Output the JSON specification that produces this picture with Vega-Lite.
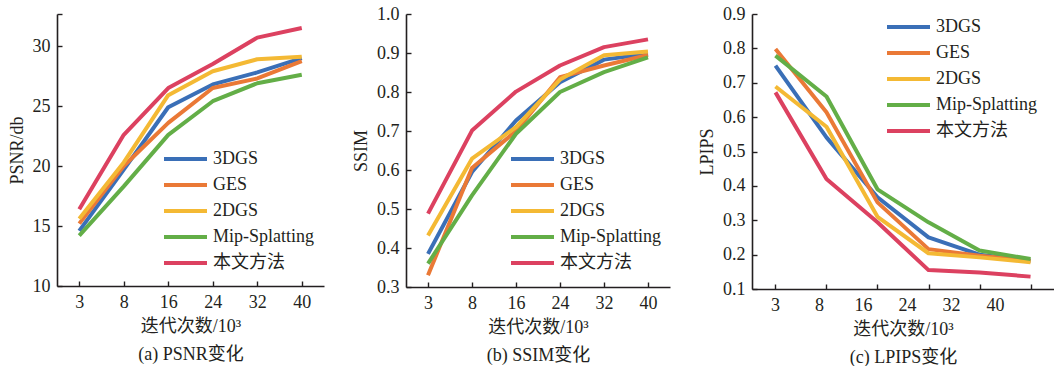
{
  "$schema": "https://vega.github.io/schema/vega-lite/v6.json",
  "padding": {"left": 8, "top": 5, "right": 0, "bottom": 0},
  "bounds": "flush",
  "spacing": 82,
  "config": {
    "font": "Liberation Serif, Noto Sans CJK SC",
    "view": {"stroke": null},
    "axis": {
      "labelFont": "Liberation Serif, Noto Sans CJK SC",
      "titleFont": "Liberation Serif, Noto Sans CJK SC",
      "labelFontSize": 18,
      "titleFontSize": 18,
      "titleFontWeight": "normal",
      "labelColor": "#231f20",
      "titleColor": "#231f20",
      "domainColor": "#231f20",
      "tickColor": "#231f20",
      "domainWidth": 1.6,
      "tickWidth": 1.4,
      "tickSize": -5,
      "grid": false,
      "labelPadding": 12,
      "titlePadding": 6,
      "labelAngle": 0,
      "labelOverlap": false
    },
    "legend": {
      "symbolType": "stroke",
      "symbolSize": 1849,
      "symbolStrokeWidth": 4.5,
      "labelFont": "Liberation Serif, Noto Sans CJK SC",
      "labelFontSize": 18,
      "labelColor": "#231f20",
      "labelOffset": 4,
      "clipHeight": 26,
      "rowPadding": 0,
      "padding": 0,
      "labelLimit": 300
    },
    "line": {"strokeWidth": 4, "strokeJoin": "round"}
  },
  "datasets": {
    "psnr": [
      {"method": "3DGS", "iter": 3, "value": 14.6},
      {"method": "3DGS", "iter": 8, "value": 19.7},
      {"method": "3DGS", "iter": 16, "value": 24.9},
      {"method": "3DGS", "iter": 24, "value": 26.8},
      {"method": "3DGS", "iter": 32, "value": 27.8},
      {"method": "3DGS", "iter": 40, "value": 29.0},
      {"method": "GES", "iter": 3, "value": 15.2},
      {"method": "GES", "iter": 8, "value": 20.0},
      {"method": "GES", "iter": 16, "value": 23.6},
      {"method": "GES", "iter": 24, "value": 26.5},
      {"method": "GES", "iter": 32, "value": 27.3},
      {"method": "GES", "iter": 40, "value": 28.75},
      {"method": "2DGS", "iter": 3, "value": 15.6},
      {"method": "2DGS", "iter": 8, "value": 20.3},
      {"method": "2DGS", "iter": 16, "value": 25.9},
      {"method": "2DGS", "iter": 24, "value": 27.9},
      {"method": "2DGS", "iter": 32, "value": 28.9},
      {"method": "2DGS", "iter": 40, "value": 29.1},
      {"method": "Mip-Splatting", "iter": 3, "value": 14.2},
      {"method": "Mip-Splatting", "iter": 8, "value": 18.3},
      {"method": "Mip-Splatting", "iter": 16, "value": 22.6},
      {"method": "Mip-Splatting", "iter": 24, "value": 25.4},
      {"method": "Mip-Splatting", "iter": 32, "value": 26.9},
      {"method": "Mip-Splatting", "iter": 40, "value": 27.6},
      {"method": "本文方法", "iter": 3, "value": 16.4},
      {"method": "本文方法", "iter": 8, "value": 22.6},
      {"method": "本文方法", "iter": 16, "value": 26.5},
      {"method": "本文方法", "iter": 24, "value": 28.5},
      {"method": "本文方法", "iter": 32, "value": 30.7},
      {"method": "本文方法", "iter": 40, "value": 31.5}
    ],
    "ssim": [
      {"method": "3DGS", "iter": 3, "value": 0.385},
      {"method": "3DGS", "iter": 8, "value": 0.595},
      {"method": "3DGS", "iter": 16, "value": 0.727},
      {"method": "3DGS", "iter": 24, "value": 0.825},
      {"method": "3DGS", "iter": 32, "value": 0.883},
      {"method": "3DGS", "iter": 40, "value": 0.898},
      {"method": "GES", "iter": 3, "value": 0.33},
      {"method": "GES", "iter": 8, "value": 0.605},
      {"method": "GES", "iter": 16, "value": 0.70},
      {"method": "GES", "iter": 24, "value": 0.838},
      {"method": "GES", "iter": 32, "value": 0.868},
      {"method": "GES", "iter": 40, "value": 0.895},
      {"method": "2DGS", "iter": 3, "value": 0.432},
      {"method": "2DGS", "iter": 8, "value": 0.629},
      {"method": "2DGS", "iter": 16, "value": 0.71},
      {"method": "2DGS", "iter": 24, "value": 0.832},
      {"method": "2DGS", "iter": 32, "value": 0.894},
      {"method": "2DGS", "iter": 40, "value": 0.904},
      {"method": "Mip-Splatting", "iter": 3, "value": 0.36},
      {"method": "Mip-Splatting", "iter": 8, "value": 0.535},
      {"method": "Mip-Splatting", "iter": 16, "value": 0.693},
      {"method": "Mip-Splatting", "iter": 24, "value": 0.80},
      {"method": "Mip-Splatting", "iter": 32, "value": 0.851},
      {"method": "Mip-Splatting", "iter": 40, "value": 0.889},
      {"method": "本文方法", "iter": 3, "value": 0.488},
      {"method": "本文方法", "iter": 8, "value": 0.701},
      {"method": "本文方法", "iter": 16, "value": 0.801},
      {"method": "本文方法", "iter": 24, "value": 0.868},
      {"method": "本文方法", "iter": 32, "value": 0.915},
      {"method": "本文方法", "iter": 40, "value": 0.935}
    ],
    "lpips": [
      {"method": "3DGS", "iter": 3, "value": 0.75},
      {"method": "3DGS", "iter": 8, "value": 0.541},
      {"method": "3DGS", "iter": 16, "value": 0.367},
      {"method": "3DGS", "iter": 24, "value": 0.25},
      {"method": "3DGS", "iter": 32, "value": 0.20},
      {"method": "3DGS", "iter": 40, "value": 0.182},
      {"method": "GES", "iter": 3, "value": 0.798},
      {"method": "GES", "iter": 8, "value": 0.614},
      {"method": "GES", "iter": 16, "value": 0.352},
      {"method": "GES", "iter": 24, "value": 0.216},
      {"method": "GES", "iter": 32, "value": 0.197},
      {"method": "GES", "iter": 40, "value": 0.182},
      {"method": "2DGS", "iter": 3, "value": 0.689},
      {"method": "2DGS", "iter": 8, "value": 0.572},
      {"method": "2DGS", "iter": 16, "value": 0.31},
      {"method": "2DGS", "iter": 24, "value": 0.204},
      {"method": "2DGS", "iter": 32, "value": 0.192},
      {"method": "2DGS", "iter": 40, "value": 0.178},
      {"method": "Mip-Splatting", "iter": 3, "value": 0.779},
      {"method": "Mip-Splatting", "iter": 8, "value": 0.66},
      {"method": "Mip-Splatting", "iter": 16, "value": 0.39},
      {"method": "Mip-Splatting", "iter": 24, "value": 0.294},
      {"method": "Mip-Splatting", "iter": 32, "value": 0.212},
      {"method": "Mip-Splatting", "iter": 40, "value": 0.187},
      {"method": "本文方法", "iter": 3, "value": 0.672},
      {"method": "本文方法", "iter": 8, "value": 0.42},
      {"method": "本文方法", "iter": 16, "value": 0.294},
      {"method": "本文方法", "iter": 24, "value": 0.155},
      {"method": "本文方法", "iter": 32, "value": 0.148},
      {"method": "本文方法", "iter": 40, "value": 0.136}
    ]
  },
  "resolve": {"legend": {"color": "independent"}},
  "hconcat": [
    {
      "width": 267,
      "height": 272,
      "data": {"name": "psnr"},
      "mark": {"type": "line"},
      "encoding": {
        "x": {"field": "iter", "type": "ordinal", "scale": {"type": "point", "padding": 0.5}, "axis": {"title": ["迭代次数/10³", "(a) PSNR变化"], "titleLineHeight": 28}},
        "y": {"field": "value", "type": "quantitative", "scale": {"domain": [10, 32.67], "nice": false, "zero": false}, "axis": {"title": "PSNR/db", "values": [10, 15, 20, 25, 30, 32.67], "labelOverlap": false, "labelExpr": "datum.value > 31 ? '' : datum.label"}},
        "color": {"field": "method", "type": "nominal", "scale": {"domain": ["3DGS", "GES", "2DGS", "Mip-Splatting", "本文方法"], "range": ["#3a6fb7", "#ea7936", "#f4b934", "#63ae47", "#dc4160"]}, "legend": {"orient": "none", "legendX": 105, "legendY": 132, "title": null}}
      }
    },
    {
      "width": 264,
      "height": 273,
      "data": {"name": "ssim"},
      "mark": {"type": "line"},
      "encoding": {
        "x": {"field": "iter", "type": "ordinal", "scale": {"type": "point", "padding": 0.5}, "axis": {"title": ["迭代次数/10³", "(b) SSIM变化"], "titleLineHeight": 28}},
        "y": {"field": "value", "type": "quantitative", "scale": {"domain": [0.3, 1.0], "nice": false, "zero": false}, "axis": {"title": "SSIM", "values": [0.3, 0.4, 0.5, 0.6, 0.7, 0.8, 0.9, 1.0], "format": ".1f", "labelOverlap": false}},
        "color": {"field": "method", "type": "nominal", "scale": {"domain": ["3DGS", "GES", "2DGS", "Mip-Splatting", "本文方法"], "range": ["#3a6fb7", "#ea7936", "#f4b934", "#63ae47", "#dc4160"]}, "legend": {"orient": "none", "legendX": 103, "legendY": 132, "title": null}}
      }
    },
    {
      "width": 302,
      "height": 275,
      "data": {"name": "lpips"},
      "resolve": {"scale": {"x": "independent"}},
      "layer": [
        {
          "mark": {"type": "line"},
          "encoding": {
            "x": {"field": "iter", "type": "ordinal", "scale": {"type": "point", "padding": 0.46}, "axis": {"labels": false, "title": null, "orient": "bottom"}},
            "y": {"field": "value", "type": "quantitative", "scale": {"domain": [0.1, 0.9], "nice": false, "zero": false}, "axis": {"title": "LPIPS", "values": [0.1, 0.2, 0.3, 0.4, 0.5, 0.6, 0.7, 0.8, 0.9], "format": ".1f", "labelOverlap": false}},
            "color": {"field": "method", "type": "nominal", "scale": {"domain": ["3DGS", "GES", "2DGS", "Mip-Splatting", "本文方法"], "range": ["#3a6fb7", "#ea7936", "#f4b934", "#63ae47", "#dc4160"]}, "legend": {"orient": "none", "legendX": 133, "legendY": 0, "title": null}}
          }
        },
        {
          "mark": {"type": "point", "opacity": 0},
          "encoding": {
            "x": {"field": "iter", "type": "ordinal", "scale": {"type": "point", "padding": 0.932, "align": 0.28}, "axis": {"ticks": false, "domain": false, "labelPadding": 7, "orient": "bottom", "title": ["迭代次数/10³", "(c) LPIPS变化"], "titleLineHeight": 28}},
            "y": {"field": "value", "type": "quantitative", "axis": {"title": "LPIPS", "values": [0.1, 0.2, 0.3, 0.4, 0.5, 0.6, 0.7, 0.8, 0.9], "format": ".1f", "labelOverlap": false}}
          }
        }
      ]
    }
  ]
}
